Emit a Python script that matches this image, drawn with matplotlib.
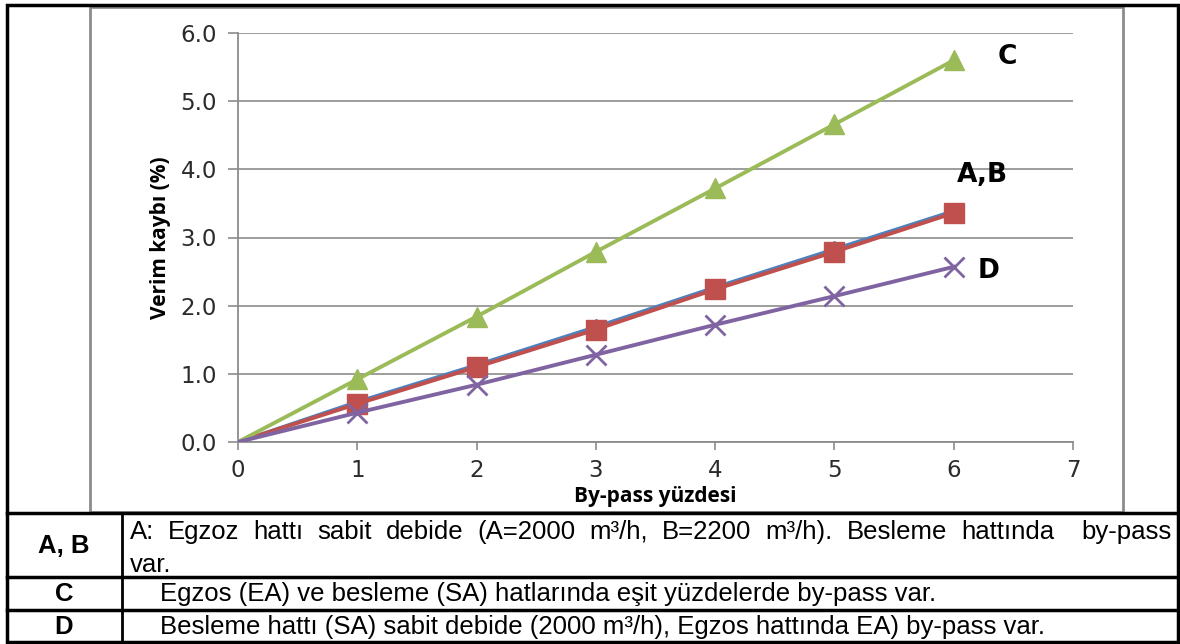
import matplotlib
matplotlib.use("Agg")
import matplotlib.pyplot as plt
from matplotlib.patches import Rectangle
from matplotlib.lines import Line2D

# by-pass percentage and efficiency loss (%) for each case
bypass = [0, 1, 2, 3, 4, 5, 6]
loss_a = [0, 0.59, 1.13, 1.69, 2.27, 2.83, 3.39]
loss_b = [0, 0.56, 1.10, 1.65, 2.24, 2.79, 3.36]
loss_c = [0, 0.92, 1.84, 2.79, 3.72, 4.66, 5.60]
loss_d = [0, 0.43, 0.84, 1.28, 1.72, 2.14, 2.57]

y_ticks = [0, 1, 2, 3, 4, 5, 6]
x_ticks = [0, 1, 2, 3, 4, 5, 6, 7]

row_keys = ["A, B", "C", "D"]
row_ab = "A: Egzoz hattı sabit debide (A=2000 m³/h, B=2200 m³/h). Besleme hattında  by-pass"
row_ab2 = "var."
row_c = "Egzos (EA) ve besleme (SA) hatlarında eşit yüzdelerde by-pass var."
row_d = "Besleme hattı (SA) sabit debide (2000 m³/h), Egzos hattında EA) by-pass var."

W, H = 1180, 644
fig = plt.figure(figsize=(W / 100, H / 100), dpi=100)


def fx(px):
    return px / W


def fy(py):
    return 1 - py / H


ax = fig.add_axes([fx(238), fy(442), fx(1073) - fx(238), fy(33) - fy(442)])

grey = "#8c8c8c"
mk = slice(1, None)  # no marker at the origin
ax.plot(bypass, loss_a, color="#4F81BD", marker="D", ms=8, lw=2.5, zorder=3, markevery=mk)
ax.plot(bypass, loss_b, color="#C0504D", marker="s", ms=14, lw=2.8, zorder=4, markevery=mk)
ax.plot(bypass, loss_c, color="#9BBB59", marker="^", ms=14.5, lw=2.8, zorder=5, markevery=mk)
ax.plot(bypass, loss_d, color="#8064A2", marker="x", ms=14, mew=2, lw=2.8, zorder=6, markevery=mk)

ax.set_xlim(0, 7)
ax.set_ylim(0, 6)
ax.set_xticks(x_ticks)
ax.set_yticks(y_ticks)
ax.set_yticklabels([f"{v:.1f}" for v in y_ticks])
for s in ["top", "right"]:
    ax.spines[s].set_visible(False)
for s in ["left", "bottom"]:
    ax.spines[s].set_color(grey)
    ax.spines[s].set_linewidth(1.3)
ax.yaxis.grid(True, color=grey, lw=1.2)
ax.set_axisbelow(True)
ax.tick_params(axis="y", length=7, color=grey, width=1.2, pad=8, labelsize=16.5, labelcolor="#2b2b2b")
ax.tick_params(axis="x", length=6, color=grey, width=1.2, pad=6, labelsize=16.5, labelcolor="#2b2b2b")

ax.set_xlabel("By-pass yüzdesi", fontsize=15, fontweight="bold", family="Open Sans", labelpad=3)
ax.set_ylabel("Verim kaybı (%)", fontsize=15, fontweight="bold", family="Open Sans", labelpad=7)

# curve labels
ax.text(6.45, 5.65, "C", fontsize=19, fontweight="bold", ha="center", va="center", clip_on=False)
ax.text(6.24, 3.91, "A,B", fontsize=19, fontweight="bold", ha="center", va="center", clip_on=False)
ax.text(6.29, 2.51, "D", fontsize=19, fontweight="bold", ha="center", va="center", clip_on=False)

# chart frame and outer border
fig.add_artist(Rectangle((fx(90), fy(512)), fx(1123) - fx(90), fy(7) - fy(512),
                         transform=fig.transFigure, fill=False, ec=grey, lw=2))
fig.add_artist(Rectangle((fx(7), fy(642)), fx(1178) - fx(7), fy(5) - fy(642),
                         transform=fig.transFigure, fill=False, ec="black", lw=2.5))


def hline(py, x0=7, x1=1178):
    fig.add_artist(Line2D([fx(x0), fx(x1)], [fy(py), fy(py)], color="black", lw=2.5,
                          transform=fig.transFigure))


hline(513)
hline(577)
hline(610)
fig.add_artist(Line2D([fx(122), fx(122)], [fy(513), fy(642)], color="black", lw=2,
                      transform=fig.transFigure))

tfont = dict(family="Liberation Sans", fontsize=18.5, color="black")
fig.text(fx(64), fy(546), row_keys[0], ha="center", va="center", fontweight="bold", **tfont)
fig.text(fx(64), fy(594), row_keys[1], ha="center", va="center", fontweight="bold", **tfont)
fig.text(fx(64), fy(627), row_keys[2], ha="center", va="center", fontweight="bold", **tfont)

# first row is justified between the cell edges
words = row_ab.split(" ")
renderer = fig.canvas.get_renderer()
pieces = []
for w in words:
    t = fig.text(fx(130), fy(539), w, ha="left", va="baseline", **tfont)
    pieces.append((t, t.get_window_extent(renderer).width if w else 0))
left, right = 130, 1172
total = sum(p[1] for p in pieces)
gap = (right - left - total) / (len(pieces) - 1)
x = left
for t, wd in pieces:
    t.set_x(fx(x))
    x += wd + gap
fig.text(fx(130), fy(572), row_ab2, ha="left", va="baseline", **tfont)

fig.text(fx(160), fy(594), row_c, ha="left", va="center", **tfont)
fig.text(fx(160), fy(627), row_d, ha="left", va="center", **tfont)

fig.savefig("out.png", dpi=100)
